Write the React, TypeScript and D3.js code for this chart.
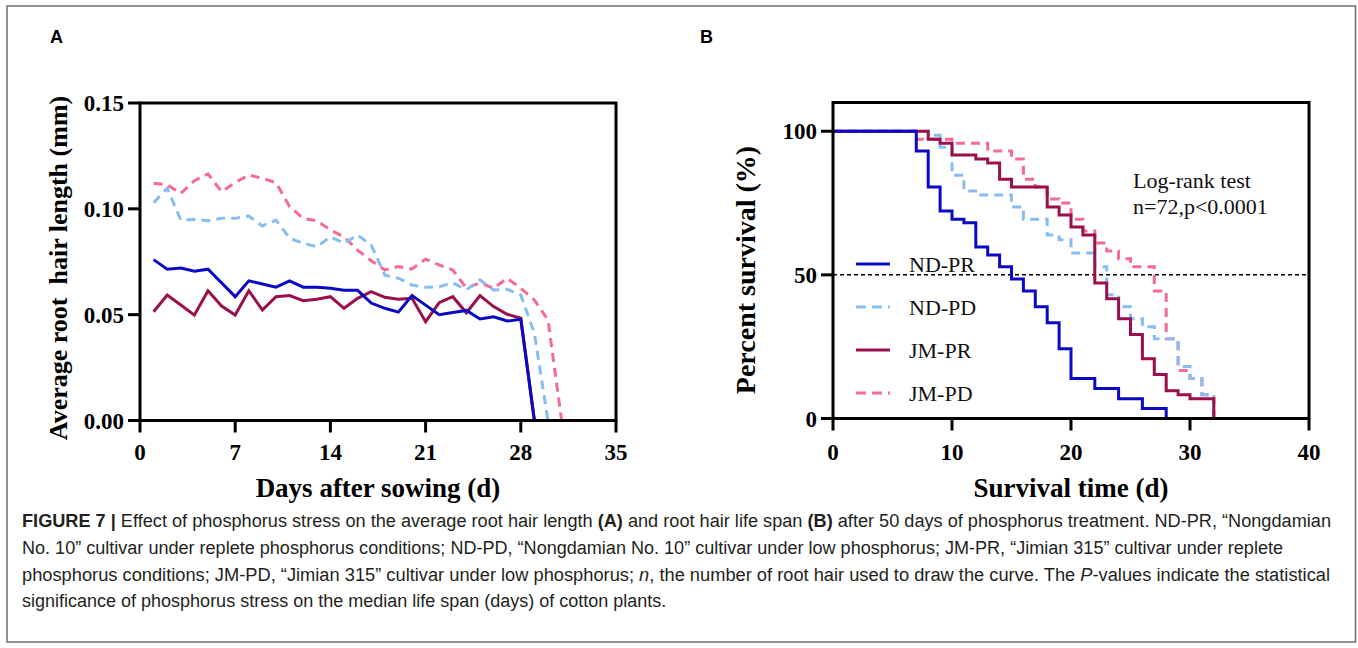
import * as d3 from 'd3';

const W = 1358;
const H = 648;

// ---- panel A: average root hair length by day ----
const days = [1, 2, 3, 4, 5, 6, 7, 8, 9, 10, 11, 12, 13, 14, 15, 16, 17, 18, 19, 20, 21, 22, 23, 24, 25, 26, 27, 28, 29, 30, 31];
const lenNDPR = [0.076, 0.0715, 0.072, 0.0705, 0.0715, 0.065, 0.0585, 0.066, 0.0645, 0.063, 0.066, 0.063, 0.063, 0.0625, 0.0615, 0.0615, 0.0555, 0.053, 0.0512, 0.059, 0.0545, 0.05, 0.051, 0.052, 0.048, 0.049, 0.047, 0.0478, 0, 0, 0];
const lenNDPD = [0.1029, 0.1097, 0.0947, 0.095, 0.0944, 0.0955, 0.0955, 0.0966, 0.0919, 0.0947, 0.0861, 0.0837, 0.0821, 0.0868, 0.0837, 0.0876, 0.0829, 0.0687, 0.0672, 0.064, 0.0629, 0.0632, 0.0651, 0.0617, 0.0664, 0.0617, 0.062, 0.0593, 0.0412, 0, null];
const lenJMPR = [0.0514, 0.0593, 0.0546, 0.0498, 0.0613, 0.0541, 0.0498, 0.0613, 0.0522, 0.0585, 0.059, 0.0566, 0.0573, 0.0585, 0.053, 0.0577, 0.0609, 0.0582, 0.0573, 0.0577, 0.0467, 0.0557, 0.0585, 0.0509, 0.059, 0.0538, 0.0502, 0.0483, 0, null, null];
const lenJMPD = [0.1121, 0.1113, 0.1073, 0.1133, 0.1165, 0.1081, 0.1124, 0.116, 0.1144, 0.1124, 0.101, 0.0955, 0.0944, 0.09, 0.0868, 0.0805, 0.0755, 0.0711, 0.0727, 0.0716, 0.0762, 0.0735, 0.0711, 0.0625, 0.0651, 0.0625, 0.0672, 0.0625, 0.0569, 0.0475, 0];
const ticksAX = [0, 7, 14, 21, 28, 35];
const ticksAY = [0, 0.05, 0.1, 0.15];

// ---- panel B: survival curves (time of drop, survival after drop) ----
const tNDPR = [7, 8, 9, 10, 11, 12, 13, 14, 15, 16, 17, 18, 19, 20, 22, 24, 26, 28];
const sNDPR = [93.1, 80.6, 72.2, 69.4, 68.1, 59.7, 56.9, 52.8, 48.6, 44.4, 38.9, 33.3, 24.3, 13.9, 10.4, 6.9, 3.5, 0];
const tNDPD = [8, 9, 10, 11, 12, 15, 16, 18, 19, 20, 22, 23, 24, 25, 26, 27, 29, 30, 31, 32];
const sNDPD = [98.6, 94.4, 84.7, 79.2, 77.8, 73.6, 69.4, 63.9, 62.2, 57.6, 52.8, 43.1, 38.9, 34.7, 31.9, 27.8, 18.1, 13.9, 8.3, 0];
const tJMPR = [8, 9, 10, 12, 13, 14, 15, 18, 19, 20, 21, 22, 23, 24, 25, 26, 27, 28, 29, 30, 32];
const sJMPR = [97.2, 95.8, 91.7, 90.3, 88.9, 83.3, 80.6, 73.6, 70.8, 66.7, 63.9, 47.2, 41.7, 34.7, 29.2, 20.8, 15.3, 9.7, 8.3, 6.9, 0];
const tJMPD = [7, 10, 13, 15, 16, 17, 18, 19, 20, 21, 22, 23, 24, 25, 27, 28, 29, 30, 31, 32];
const sJMPD = [97.2, 95.8, 93.1, 90.3, 83.3, 80.6, 76.4, 75.0, 69.4, 65.3, 61.1, 58.3, 55.6, 52.8, 44.4, 27.8, 16.7, 13.9, 8.3, 0];
const ticksBX = [0, 10, 20, 30, 40];
const ticksBY = [0, 50, 100];

const seriesNames = ['ND-PR', 'ND-PD', 'JM-PR', 'JM-PD'];

const styles: Record<string, { color: string; dash?: string }> = {
  'ND-PR': { color: '#0a0ac4' },
  'ND-PD': { color: '#86bef4', dash: '9,6' },
  'JM-PR': { color: '#9a0f4c' },
  'JM-PD': { color: '#f66b93', dash: '9,6' },
};

const serif = '"Liberation Serif", "Times New Roman", serif';
const sans = '"Liberation Sans", Arial, sans-serif';
const capFont = '"Liberation Sans Narrow", "Liberation Sans", Arial, sans-serif';

export default function App() {
  // scales
  const xA = d3.scaleLinear().domain([0, 35]).range([140, 616]);
  const yA = d3.scaleLinear().domain([0, 0.15]).range([420.5, 103]);
  const xB = d3.scaleLinear().domain([0, 40]).range([833, 1309]);
  const yB = d3.scaleLinear().domain([0, 110]).range([418.5, 102.5]);

  const lineA = d3
    .line<[number, number | null]>()
    .defined((d) => d[1] !== null)
    .x((d) => xA(d[0]))
    .y((d) => yA(d[1] as number));

  const lineB = d3
    .line<[number, number]>()
    .curve(d3.curveStepAfter)
    .x((d) => xB(d[0]))
    .y((d) => yB(d[1]));

  const lenSeries: Record<string, (number | null)[]> = {
    'ND-PR': lenNDPR,
    'ND-PD': lenNDPD,
    'JM-PR': lenJMPR,
    'JM-PD': lenJMPD,
  };
  const survSeries: Record<string, [number[], number[]]> = {
    'ND-PR': [tNDPR, sNDPR],
    'ND-PD': [tNDPD, sNDPD],
    'JM-PR': [tJMPR, sJMPR],
    'JM-PD': [tJMPD, sJMPD],
  };
  const drawOrder = ['JM-PD', 'ND-PD', 'JM-PR', 'ND-PR'];

  const stepPoints = (name: string): [number, number][] => {
    const [ts, ss] = survSeries[name];
    const pts: [number, number][] = [[0, 100]];
    ts.forEach((t, i) => pts.push([t, ss[i]]));
    return pts;
  };

  const tickLabel = { fontFamily: serif, fontWeight: 700, fontSize: 23, fill: '#000' } as const;
  const axisTitle = { fontFamily: serif, fontWeight: 700, fontSize: 27, fill: '#000' } as const;

  return (
    <svg width={W} height={H} style={{ position: 'absolute', left: 0, top: 0, background: '#fff' }}>
      <rect x={7} y={6} width={1348.5} height={636} fill="#fff" stroke="#6d6d6d" strokeWidth={1.5} />

      {/* panel letters */}
      <text x={50} y={43} fontFamily={sans} fontWeight={700} fontSize={18}>A</text>
      <text x={700} y={43} fontFamily={sans} fontWeight={700} fontSize={18}>B</text>

      {/* ---------- panel A ---------- */}
      <g>
        {drawOrder.map((name) => (
          <path
            key={name}
            d={lineA(days.map((d, i) => [d, lenSeries[name][i]] as [number, number | null])) || ''}
            fill="none"
            stroke={styles[name].color}
            strokeWidth={3}
            strokeDasharray={styles[name].dash}
            strokeLinejoin="miter"
          />
        ))}
        <rect x={xA(0)} y={yA(0.15)} width={xA(35) - xA(0)} height={yA(0) - yA(0.15)} fill="none" stroke="#000" strokeWidth={3} />
        {ticksAY.map((v) => (
          <g key={v}>
            <line x1={xA(0) - 12} x2={xA(0)} y1={yA(v)} y2={yA(v)} stroke="#000" strokeWidth={3} />
            <text x={124} y={yA(v) + 8} textAnchor="end" {...tickLabel}>{d3.format('.2f')(v)}</text>
          </g>
        ))}
        {ticksAX.map((v) => (
          <g key={v}>
            <line x1={xA(v)} x2={xA(v)} y1={yA(0)} y2={yA(0) + 12} stroke="#000" strokeWidth={3} />
            <text x={xA(v)} y={460} textAnchor="middle" {...tickLabel}>{v}</text>
          </g>
        ))}
        <text x={(xA(0) + xA(35)) / 2} y={497} textAnchor="middle" {...axisTitle}>Days after sowing (d)</text>
        <text
          transform={`translate(67, 268) rotate(-90)`}
          textAnchor="middle"
          {...axisTitle}
          fontSize={26}
          style={{ whiteSpace: 'pre' }}
        >
          {'Average root  hair length (mm)'}
        </text>
      </g>

      {/* ---------- panel B ---------- */}
      <g>
        <line x1={xB(0)} x2={xB(40)} y1={yB(50)} y2={yB(50)} stroke="#000" strokeWidth={1.5} strokeDasharray="4,3" />
        {drawOrder.map((name) => (
          <path
            key={name}
            d={lineB(stepPoints(name)) || ''}
            fill="none"
            stroke={styles[name].color}
            strokeWidth={3}
            strokeDasharray={styles[name].dash}
          />
        ))}
        <rect x={xB(0)} y={yB(110)} width={xB(40) - xB(0)} height={yB(0) - yB(110)} fill="none" stroke="#000" strokeWidth={3} />
        {ticksBY.map((v) => (
          <g key={v}>
            <line x1={xB(0) - 12} x2={xB(0)} y1={yB(v)} y2={yB(v)} stroke="#000" strokeWidth={3} />
            <text x={817} y={yB(v) + 8} textAnchor="end" {...tickLabel}>{v}</text>
          </g>
        ))}
        {ticksBX.map((v) => (
          <g key={v}>
            <line x1={xB(v)} x2={xB(v)} y1={yB(0)} y2={yB(0) + 12} stroke="#000" strokeWidth={3} />
            <text x={xB(v)} y={460} textAnchor="middle" {...tickLabel}>{v}</text>
          </g>
        ))}
        <text x={(xB(0) + xB(40)) / 2} y={497} textAnchor="middle" {...axisTitle}>Survival time (d)</text>
        <text transform={`translate(755, 270) rotate(-90)`} textAnchor="middle" {...axisTitle} fontSize={28}>
          Percent survival (%)
        </text>

        {/* legend */}
        {seriesNames.map((name, i) => {
          const ly = 264 + i * 43;
          return (
            <g key={name}>
              <line x1={856} x2={890} y1={ly} y2={ly} stroke={styles[name].color} strokeWidth={3} strokeDasharray={styles[name].dash ? '10,6' : undefined} />
              <text x={909} y={ly + 8} fontFamily={serif} fontSize={22} fill="#111">{name}</text>
            </g>
          );
        })}

        <text x={1133} y={188} fontFamily={serif} fontSize={22} fill="#111">Log-rank test</text>
        <text x={1133} y={214} fontFamily={serif} fontSize={22} fill="#111">n=72,p&lt;0.0001</text>
      </g>

      {/* ---------- caption ---------- */}
      <g fontFamily={capFont} fontSize={18} fill="#231f20">
        <text x={22} y={527} textLength={1309} lengthAdjust="spacingAndGlyphs">
          <tspan fontWeight={700}>FIGURE 7 |</tspan> Effect of phosphorus stress on the average root hair length <tspan fontWeight={700}>(A)</tspan> and root hair life span <tspan fontWeight={700}>(B)</tspan> after 50 days of phosphorus treatment. ND-PR, “Nongdamian
        </text>
        <text x={22} y={554} textLength={1261} lengthAdjust="spacingAndGlyphs">
          No. 10” cultivar under replete phosphorus conditions; ND-PD, “Nongdamian No. 10” cultivar under low phosphorus; JM-PR, “Jimian 315” cultivar under replete
        </text>
        <text x={22} y={581} textLength={1308} lengthAdjust="spacingAndGlyphs">
          phosphorus conditions; JM-PD, “Jimian 315” cultivar under low phosphorus; <tspan fontStyle="italic">n</tspan>, the number of root hair used to draw the curve. The <tspan fontStyle="italic">P</tspan>-values indicate the statistical
        </text>
        <text x={22} y={607}>
          significance of phosphorus stress on the median life span (days) of cotton plants.
        </text>
      </g>
    </svg>
  );
}
